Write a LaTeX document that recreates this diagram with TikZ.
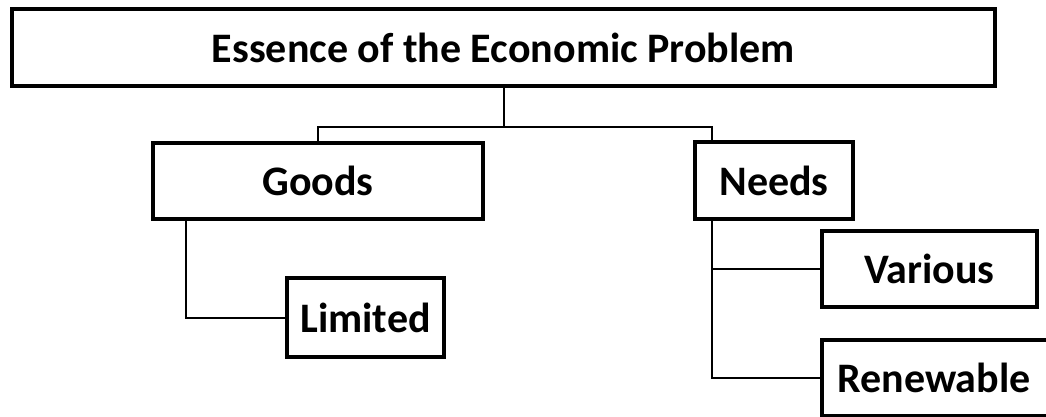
\documentclass[tikz,border=0pt]{standalone}
\usepackage{fontspec}
\setmainfont{Carlito}
\begin{document}
\begin{tikzpicture}[x=1pt,y=-1pt,
  box/.style={draw=black,line width=4pt,fill=white,inner sep=0pt,minimum width=#1},
  lbl/.style={font=\fontsize{42}{50}\selectfont\bfseries,inner sep=0pt},
  conn/.style={line width=2pt,black}]
\useasboundingbox (0,0) rectangle (1046,417);
\clip (0,0) rectangle (1046,417);
% boxes
\node[box=983pt,minimum height=77pt] (top) at (503.5,47.5) {};
\node[box=330pt,minimum height=76pt] (goods) at (318,181) {};
\node[box=158pt,minimum height=77pt] (needs) at (774,180.5) {};
\node[box=157pt,minimum height=79pt] (limited) at (365.5,317.5) {};
\node[box=215pt,minimum height=76pt] (various) at (929.5,269) {};
\node[box=227pt,minimum height=76pt] (renewable) at (935.5,378) {};
% labels
\node[lbl] (ttop) at (503.5,48) {Essence of the Economic Problem};
\node[lbl] (tgoods) at (goods.center) {Goods};
\node[lbl] (tneeds) at (needs.center) {Needs};
\node[lbl] (tlimited) at (limited.center) {Limited};
\node[lbl] (tvarious) at (various.center) {Various};
\node[lbl] (trenew) at (934,378) {Renewable};
% connectors
\coordinate (gx) at (186,0);
\coordinate (nx) at (712,0);
\draw[conn] (top.south) -- ++(0,39) coordinate (j);
\draw[conn] (goods.north) |- (j) -| (needs.north -| nx);
\draw[conn] (goods.south -| gx) |- (limited.west);
\draw[conn] (needs.south -| nx) |- (renewable.west);
\draw[conn] (nx |- various.west) -- (various.west);
\end{tikzpicture}
\end{document}
